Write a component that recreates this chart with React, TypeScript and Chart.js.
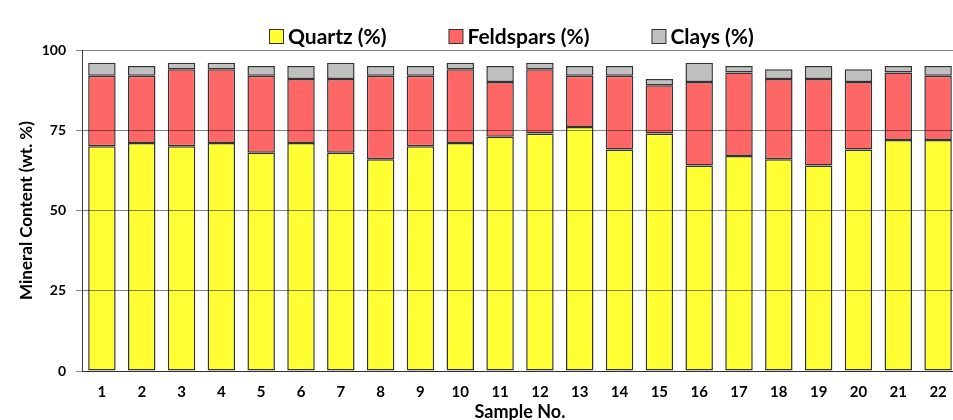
import React, { useEffect, useRef } from 'react';
import { Chart, registerables } from 'chart.js';

Chart.register(...registerables);

// ---- data ----
const samples = ['1', '2', '3', '4', '5', '6', '7', '8', '9', '10', '11', '12', '13', '14', '15', '16', '17', '18', '19', '20', '21', '22'];
const quartz = [70, 71, 70, 71, 68, 71, 68, 66, 70, 71, 73, 74, 76, 69, 74, 64, 67, 66, 64, 69, 72, 72];
const feldspars = [22, 21, 24, 23, 24, 20, 23, 26, 22, 23, 17, 20, 16, 23, 15, 26, 26, 25, 27, 21, 21, 20];
const clays = [4, 3, 2, 2, 3, 4, 5, 3, 3, 2, 5, 2, 3, 3, 2, 6, 2, 3, 4, 4, 2, 3];
const yTicks = [0, 25, 50, 75, 100];
const seriesNames = ['Quartz (%)', 'Feldspars (%)', 'Clays (%)'];
const seriesColors = ['#FFFF33', '#FF6666', '#C0C0C0'];

const FONT = 'Lato, "Open Sans", "DejaVu Sans", sans-serif';

const legendPlugin = {
  id: 'customLegend',
  afterDraw(chart: any) {
    const ctx = chart.ctx as CanvasRenderingContext2D;
    const items = chart.data.datasets.map((ds: any) => ({
      text: ds.label as string,
      fill: ds.backgroundColor as string,
    }));
    ctx.save();
    ctx.font = `bold 21px ${FONT}`;
    const box = 14;
    const gapBT = 5;
    const gap = 62;
    const widths = items.map((it: any) => box + gapBT + ctx.measureText(it.text).width);
    const total = widths.reduce((a: number, b: number) => a + b, 0) + gap * (items.length - 1);
    let x = Math.round(511 - total / 2);
    const cy = 36;
    items.forEach((it: any, i: number) => {
      ctx.fillStyle = it.fill;
      ctx.fillRect(x + 0.5, cy - box / 2 + 0.5, box, box);
      ctx.strokeStyle = '#333333';
      ctx.lineWidth = 1;
      ctx.strokeRect(x + 0.5, cy - box / 2 + 0.5, box, box);
      ctx.fillStyle = '#000000';
      ctx.textBaseline = 'middle';
      ctx.textAlign = 'left';
      ctx.fillText(it.text, x + box + gapBT, cy + 1);
      x += widths[i] + gap;
    });
    ctx.restore();
  },
};

export default function App() {
  const ref = useRef<HTMLCanvasElement>(null);

  useEffect(() => {
    const values = [quartz, feldspars, clays];
    const chart = new Chart(ref.current as HTMLCanvasElement, {
      type: 'bar',
      data: {
        labels: samples,
        datasets: values.map((d, i) => ({
          label: seriesNames[i],
          data: d,
          backgroundColor: seriesColors[i],
          borderColor: '#333333',
          borderWidth: 1.5,
          borderSkipped: false,
        })),
      },
      options: {
        responsive: false,
        animation: false,
        devicePixelRatio: 1,
        layout: { padding: { top: 50, left: 0, right: 60, bottom: 0 } },
        datasets: { bar: { barPercentage: 0.69, categoryPercentage: 1 } },
        plugins: {
          legend: { display: false },
          tooltip: { enabled: false },
          title: { display: false },
        },
        scales: {
          x: {
            stacked: true,
            grid: { display: false, drawTicks: false },
            border: { display: true, color: '#595959', width: 1, z: 1 },
            ticks: {
              color: '#000000',
              font: { family: FONT, size: 15, weight: 'bold' },
              padding: 12,
              maxRotation: 0,
              autoSkip: false,
            },
            title: {
              display: true,
              text: 'Sample No.',
              color: '#000000',
              font: { family: FONT, size: 18, weight: 'bold', lineHeight: 1.2 },
              padding: { top: 0, bottom: 7.2 },
            },
            afterFit: (s: any) => {
              s.height = 59;
            },
          },
          y: {
            stacked: true,
            min: 0,
            max: 100,
            afterBuildTicks: (s: any) => {
              s.ticks = yTicks.map((v) => ({ value: v }));
            },
            grid: { color: 'rgba(0,0,0,0.48)', lineWidth: 1, tickLength: 6, drawTicks: true, z: 1 },
            border: { display: true, color: '#404040', width: 1, z: 1 },
            ticks: {
              color: '#000000',
              font: { family: FONT, size: 14, weight: 'bold' },
              padding: 10,
            },
            title: {
              display: true,
              text: 'Mineral Content (wt. %)',
              color: '#000000',
              font: { family: FONT, size: 17, weight: 'bold', lineHeight: 1.2 },
              padding: { top: 16.8, bottom: 0 },
            },
            afterFit: (s: any) => {
              s.width = 82;
            },
          },
        },
      } as any,
      plugins: [legendPlugin],
    });
    return () => chart.destroy();
  }, []);

  return (
    <div
      style={{
        position: 'fixed',
        left: 0,
        top: 0,
        width: 953,
        height: 420,
        overflow: 'hidden',
        background: '#ffffff',
      }}
    >
      <canvas ref={ref} width={1018} height={430} style={{ display: 'block', width: 1018, height: 430 }} />
    </div>
  );
}
